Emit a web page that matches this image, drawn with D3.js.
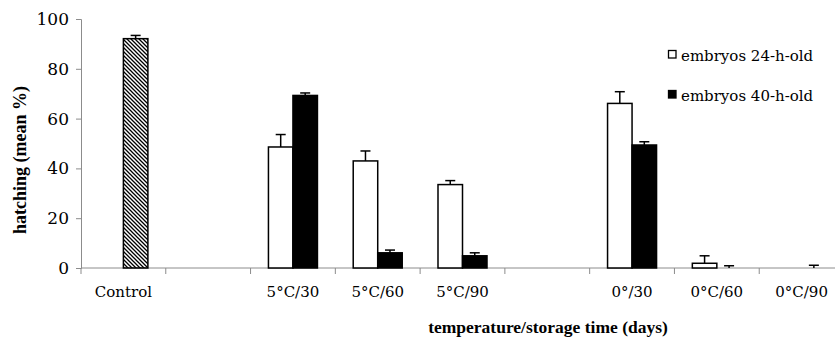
<!DOCTYPE html>
<html lang="en">
<head>
  <meta charset="UTF-8">
  <title>Hatching</title>
  <style>
    body { margin: 0; background: #fff; }
  </style>
</head>
<body>
  <script src="https://d3js.org/d3.v7.min.js"></script>
  <script>
    const categories = ['Control', '', '5°C/30', '5°C/60', '5°C/90', '', '0°/30', '0°C/60', '0°C/90'];
    const series = ['embryos 24-h-old', 'embryos 40-h-old'];
    const h24 = [null, null, 48.6, 43.0, 33.5, null, 66.1, 1.9, 0];
    const h24err = [null, null, 5.0, 4.0, 1.6, null, 4.7, 3.0, null];
    const h40 = [null, null, 69.3, 6.1, 4.9, null, 49.4, 0, 0];
    const h40err = [null, null, 1.0, 1.1, 1.2, null, 1.3, 0.9, 1.1];
    // control bar sits in the second slot, drawn hatched
    const control = [92.1];
    const controlErr = [1.3];
    const yTicks = [0, 20, 40, 60, 80, 100];

    const [width, height] = [835, 338];
    const margin = { top: 19, left: 81, bottom: 70, right: -9 };
    const axisColor = '#8c8c8c';

    const svg = d3.select('body').append('svg').attr('width', width).attr('height', height);

    // hatch pattern
    const defs = svg.append('defs');
    defs.append('pattern')
      .attr('id', 'hatch')
      .attr('patternUnits', 'userSpaceOnUse')
      .attr('width', 4).attr('height', 4)
      .append('path')
      .attr('d', 'M-1,-1L5,5M-1,3L1,5M3,-1L5,1')
      .attr('stroke', '#000').attr('stroke-width', 1.3);

    // scales
    const xScale = d3.scaleBand()
      .domain(d3.range(categories.length))
      .range([margin.left, width - margin.right]);
    const xSub = d3.scaleBand()
      .domain([0, 1])
      .range([0, xScale.bandwidth() * 0.578]);
    const groupOffset = (xScale.bandwidth() - xSub.range()[1]) / 2;
    const yScale = d3.scaleLinear()
      .domain([0, 100])
      .range([height - margin.bottom, margin.top]);

    // y axis
    const yAxis = d3.axisLeft(yScale).tickValues(yTicks).tickSize(5).tickPadding(7);
    const gy = svg.append('g')
      .attr('transform', `translate(${margin.left}, 0)`)
      .call(yAxis);
    gy.selectAll('path, line').attr('stroke', axisColor);
    gy.selectAll('text').attr('font-family', 'DejaVu Serif').attr('font-size', 17).attr('fill', '#000');

    // x axis: ticks between categories
    const gx = svg.append('g').attr('transform', `translate(0, ${yScale(0)})`);
    gx.append('line')
      .attr('x1', margin.left).attr('x2', width)
      .attr('stroke', axisColor);
    gx.selectAll('.tk')
      .data(d3.range(categories.length))
      .enter()
      .append('line')
      .attr('x1', i => xScale(i)).attr('x2', i => xScale(i))
      .attr('y1', 0).attr('y2', 6)
      .attr('stroke', axisColor);
    gx.selectAll('text')
      .data(categories)
      .enter()
      .append('text')
      .attr('x', (d, i) => xScale(i) + xScale.bandwidth() / 2)
      .attr('y', 29)
      .attr('text-anchor', 'middle')
      .attr('font-family', 'DejaVu Serif')
      .attr('font-size', 15)
      .text(d => d);

    // bars
    const bars = [];
    categories.forEach((c, i) => {
      if (h24[i] != null) bars.push({ i, slot: 0, v: h24[i], e: h24err[i], fill: '#fff' });
      if (h40[i] != null) bars.push({ i, slot: 1, v: h40[i], e: h40err[i], fill: '#000' });
    });
    bars.push({ i: 0, slot: 1, v: control[0], e: controlErr[0], fill: 'url(#hatch)' });

    const barX = d => xScale(d.i) + groupOffset + xSub(d.slot);

    svg.append('g')
      .selectAll('rect')
      .data(bars.filter(d => d.v > 0))
      .enter()
      .append('rect')
      .attr('x', barX)
      .attr('y', d => yScale(d.v))
      .attr('width', xSub.bandwidth())
      .attr('height', d => yScale(0) - yScale(d.v))
      .attr('fill', d => d.fill)
      .attr('stroke', '#000')
      .attr('stroke-width', 1.5);

    // error bars (upper only)
    const eb = svg.append('g')
      .selectAll('g')
      .data(bars.filter(d => d.e != null))
      .enter()
      .append('g')
      .attr('stroke', '#000')
      .attr('stroke-width', 1.5);
    eb.append('line')
      .attr('x1', d => barX(d) + xSub.bandwidth() / 2)
      .attr('x2', d => barX(d) + xSub.bandwidth() / 2)
      .attr('y1', d => yScale(d.v))
      .attr('y2', d => yScale(d.v + d.e));
    eb.append('line')
      .attr('x1', d => barX(d) + xSub.bandwidth() / 2 - 5)
      .attr('x2', d => barX(d) + xSub.bandwidth() / 2 + 5)
      .attr('y1', d => yScale(d.v + d.e))
      .attr('y2', d => yScale(d.v + d.e));

    // legend
    const legend = svg.append('g')
      .selectAll('g')
      .data(series)
      .enter()
      .append('g')
      .attr('transform', (d, i) => `translate(668, ${50 + i * 40})`);
    legend.append('rect')
      .attr('x', 0.5).attr('y', 0.5)
      .attr('width', 7.5).attr('height', 7.5)
      .attr('fill', (d, i) => i ? '#000' : '#fff')
      .attr('stroke', '#000')
      .attr('stroke-width', 1.3);
    legend.append('text')
      .attr('x', 13).attr('y', 10.5)
      .attr('font-family', 'DejaVu Serif')
      .attr('font-size', 15)
      .text(d => d);

    // axis titles
    svg.append('text')
      .attr('x', 548).attr('y', 333)
      .attr('text-anchor', 'middle')
      .attr('font-family', 'Liberation Serif')
      .attr('font-weight', 'bold')
      .attr('font-size', 17.5)
      .text('temperature/storage time (days)');
    svg.append('text')
      .attr('transform', 'translate(26, 160) rotate(-90)')
      .attr('text-anchor', 'middle')
      .attr('font-family', 'Liberation Serif')
      .attr('font-weight', 'bold')
      .attr('font-size', 18)
      .text('hatching (mean %)');
  </script>
</body>
</html>
